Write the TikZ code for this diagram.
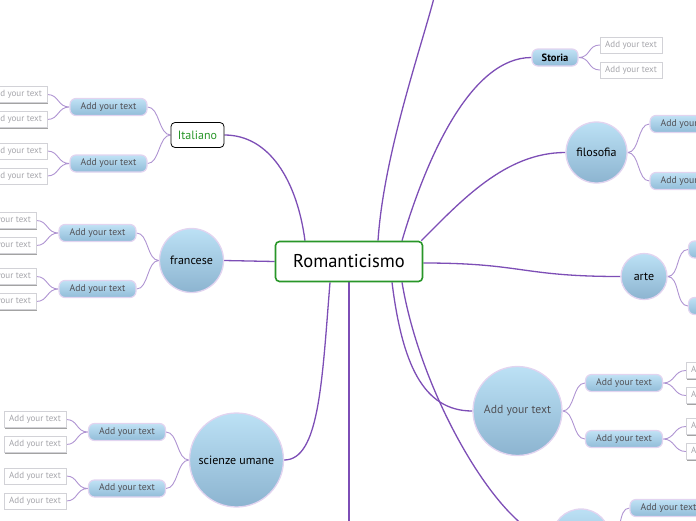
\documentclass[tikz,border=0pt]{standalone}
\usepackage{fontspec}
\setmainfont{PT Sans}
\usetikzlibrary{backgrounds,shadows}
\definecolor{mainln}{RGB}{125,78,182}
\definecolor{subln}{RGB}{175,148,210}
\definecolor{lav}{RGB}{226,212,240}
\definecolor{ptop}{RGB}{192,226,245}
\definecolor{pbot}{RGB}{145,188,216}
\definecolor{ctop}{RGB}{188,225,245}
\definecolor{cbot}{RGB}{140,180,208}
\definecolor{pilltext}{RGB}{80,80,85}
\definecolor{leaftext}{RGB}{165,165,170}
\definecolor{leafdraw}{RGB}{210,210,215}
\definecolor{cgreen}{RGB}{40,150,40}
\begin{document}
\begin{tikzpicture}[x=1pt,y=-1pt,
  leaf/.style={draw=leafdraw, fill=white, minimum width=62pt, minimum height=16pt, inner sep=0pt,
    text=leaftext, font=\fontsize{9}{10}\selectfont,
    drop shadow={shadow xshift=0.6pt, shadow yshift=-1.4pt, fill=black!60, opacity=0.6}},
  pill/.style={rounded corners=6pt, draw=lav, line width=1.2pt, top color=ptop, bottom color=pbot,
    minimum width=77pt, minimum height=17pt, inner sep=0pt, text=pilltext, font=\fontsize{9.7}{11}\selectfont},
  circ/.style={circle, draw=lav, line width=1.3pt, top color=ctop, bottom color=cbot, inner sep=0pt,
    font=\fontsize{12}{14}\selectfont},
  central/.style={draw=cgreen, line width=1.6pt, rounded corners=4pt, fill=white,
    minimum width=147pt, minimum height=40pt, font=\fontsize{18.5}{21}\selectfont},
  itbox/.style={draw=black, line width=0.8pt, rounded corners=4pt, fill=white,
    minimum width=53pt, minimum height=25pt, text=cgreen, font=\fontsize{12}{14}\selectfont},
  mainc/.style={draw=mainln, line width=1.3pt},
  subc/.style={draw=subln, line width=0.9pt},
  subL/.style={to path={.. controls +(-12,0) and +(12,0) .. (\tikztotarget)}},
  subR/.style={to path={.. controls +(12,0) and +(-12,0) .. (\tikztotarget)}}
]
\useasboundingbox (0,0) rectangle (696,520);
\clip (0,0) rectangle (696,520);

% central
\node[central] (cen) at (349,261.5) {Romanticismo};

% Italiano
\node[itbox] (it) at (197.5,135) {Italiano};
\node[pill] (ip1) at (108.5,107) {Add your text};
\node[pill] (ip2) at (108.5,163.5) {Add your text};
\node[leaf] (il1) at (16,94.5) {Add your text};
\node[leaf] (il2) at (16,119.5) {Add your text};
\node[leaf] (il3) at (16,151) {Add your text};
\node[leaf] (il4) at (16,176) {Add your text};

% francese
\node[circ, minimum size=64pt] (fr) at (191.5,260.5) {francese};
\node[pill] (fp1) at (97.5,233) {Add your text};
\node[pill] (fp2) at (97.5,289) {Add your text};
\node[leaf] (fl1) at (5,220.5) {Add your text};
\node[leaf] (fl2) at (5,245.5) {Add your text};
\node[leaf] (fl3) at (5,276.5) {Add your text};
\node[leaf] (fl4) at (5,301.5) {Add your text};

% scienze umane
\node[circ, minimum size=94pt] (sc) at (236.5,460) {scienze umane};
\node[pill] (sp1) at (127,432) {Add your text};
\node[pill] (sp2) at (127,488.5) {Add your text};
\node[leaf] (sl1) at (35,419.5) {Add your text};
\node[leaf] (sl2) at (35,444.5) {Add your text};
\node[leaf] (sl3) at (35,476) {Add your text};
\node[leaf] (sl4) at (35,501) {Add your text};

% Storia
\node[pill, minimum width=46pt, font=\fontsize{10.5}{12}\selectfont\bfseries, text=black] (st) at (555,57.5) {Storia};
\node[leaf] (stl1) at (631,45) {Add your text};
\node[leaf] (stl2) at (631,70) {Add your text};

% filosofia
\node[circ, minimum size=61pt] (fi) at (596.5,152.5) {filosofia};
\node[pill] (fip1) at (688.5,124) {Add your text};
\node[pill] (fip2) at (688.5,181) {Add your text};

% arte
\node[circ, minimum size=46pt] (ar) at (644,276.5) {arte};
\node[pill] (ap1) at (727,249.5) {Add your text};
\node[pill] (ap2) at (727,306) {Add your text};

% big circle
\node[circ, minimum size=89pt, text=pilltext, font=\fontsize{11.7}{13}\selectfont] (bc) at (517.5,411) {Add your text};
\node[pill] (bp1) at (624,383) {Add your text};
\node[pill] (bp2) at (624,439) {Add your text};
\node[leaf] (bl1) at (717,370.5) {Add your text};
\node[leaf] (bl2) at (717,395.5) {Add your text};
\node[leaf] (bl3) at (717,426.5) {Add your text};
\node[leaf] (bl4) at (717,451.5) {Add your text};

% bottom right circle
\node[circ, minimum size=58pt] (br) at (581,538) {};
\node[pill] (brp) at (668.5,508) {Add your text};

\coordinate (topend) at (436,-10);
\coordinate (botend) at (349,530);

\begin{pgfonlayer}{background}
\draw[mainc] ([xshift=-44pt]cen.north) .. controls +(-8,-60) and +(45,0) .. (it.east);
\draw[mainc] ([xshift=29pt]cen.north) .. controls +(6,-90) and +(-12,50) .. (topend);
\draw[mainc] ([xshift=53pt]cen.north) .. controls +(25,-85) and +(-60,0) .. (st.west);
\draw[mainc] ([xshift=-2pt]cen.north east) .. controls +(40,-40) and +(-60,0) .. (fi.west);
\draw[mainc] ([yshift=-1.5pt]cen.east) .. controls +(100,0) and +(-100,0) .. (ar.west);
\draw[mainc] (cen.west) -- (fr.east);
\draw[mainc] ([xshift=-19pt]cen.south) .. controls +(-8,100) and +(35,0) .. (sc.east);
\draw[mainc] (cen.south) -- (botend);
\draw[mainc] ([xshift=43pt]cen.south) .. controls +(10,80) and +(-50,0) .. (bc.west);
\draw[mainc] ([xshift=53pt]cen.south) .. controls +(20,120) and +(-45,0) .. (br.west);

% left sub connectors
\draw[subc] (it.west) to[subL] (ip1.east) (it.west) to[subL] (ip2.east);
\draw[subc] (ip1.west) to[subL] (il1.east) (ip1.west) to[subL] (il2.east);
\draw[subc] (ip2.west) to[subL] (il3.east) (ip2.west) to[subL] (il4.east);
\draw[subc] (fr.west) to[subL] (fp1.east) (fr.west) to[subL] (fp2.east);
\draw[subc] (fp1.west) to[subL] (fl1.east) (fp1.west) to[subL] (fl2.east);
\draw[subc] (fp2.west) to[subL] (fl3.east) (fp2.west) to[subL] (fl4.east);
\draw[subc] (sc.west) to[subL] (sp1.east) (sc.west) to[subL] (sp2.east);
\draw[subc] (sp1.west) to[subL] (sl1.east) (sp1.west) to[subL] (sl2.east);
\draw[subc] (sp2.west) to[subL] (sl3.east) (sp2.west) to[subL] (sl4.east);
% right sub connectors
\draw[subc] (st.east) to[subR] (stl1.west) (st.east) to[subR] (stl2.west);
\draw[subc] (fi.east) to[subR] (fip1.west) (fi.east) to[subR] (fip2.west);
\draw[subc] (ar.east) to[subR] (ap1.west) (ar.east) to[subR] (ap2.west);
\draw[subc] (bc.east) to[subR] (bp1.west) (bc.east) to[subR] (bp2.west);
\draw[subc] (bp1.east) to[subR] (bl1.west) (bp1.east) to[subR] (bl2.west);
\draw[subc] (bp2.east) to[subR] (bl3.west) (bp2.east) to[subR] (bl4.west);
\draw[subc] (br.east) to[subR] (brp.west);
\end{pgfonlayer}
\end{tikzpicture}
\end{document}
